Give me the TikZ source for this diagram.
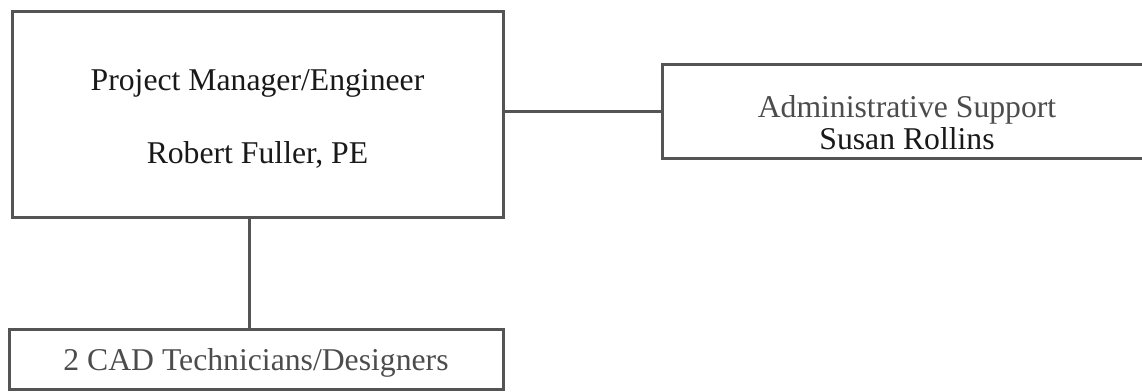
\documentclass[tikz,border=0pt]{standalone}
\usepackage{fontspec}
\setmainfont{Liberation Serif}
\newlength{\du}
\setlength{\du}{1pt}
\definecolor{boxline}{rgb}{0.330000, 0.330000, 0.330000}
\definecolor{darktext}{rgb}{0.100000, 0.100000, 0.100000}
\definecolor{greytext}{rgb}{0.300000, 0.300000, 0.300000}
\tikzset{
  orgbox/.style={draw=boxline, line width=3\du, rectangle, inner sep=0pt},
  link/.style={draw=boxline, line width=3\du},
  boxtext/.style={anchor=base, inner sep=0pt, font=\fontsize{31.7}{36}\selectfont}
}

\begin{document}
\begin{tikzpicture}
\pgftransformxscale{1.000000}
\pgftransformyscale{-1.000000}
\useasboundingbox (0.000000\du,0.000000\du) rectangle (1142.000000\du,391.000000\du);
% boxes
\node[orgbox, minimum width=491\du, minimum height=206\du] (pm) at (257.500000\du,114.000000\du){};
\node[orgbox, minimum width=490\du, minimum height=94\du] (adm) at (907.000000\du,111.000000\du){};
\node[orgbox, minimum width=494\du, minimum height=60\du] (cad) at (256.000000\du,359.000000\du){};
% texts
\node[boxtext, text=darktext] (pmtitle) at (257.500000\du,90.000000\du){Project Manager/Engineer};
\node[boxtext, text=darktext] (pmname) at (257.500000\du,163.000000\du){Robert Fuller, PE};
\node[boxtext, text=greytext] (admtitle) at (907.000000\du,117.000000\du){Administrative Support};
\node[boxtext, text=darktext] (admname) at (907.000000\du,149.000000\du){Susan Rollins};
\node[boxtext, text=greytext] (cadtitle) at (256.000000\du,370.000000\du){2 CAD Technicians/Designers};
% connectors
\draw[link] (adm.west) -- (adm.west -| pm.east);
\draw[link] ([xshift=-8\du]pm.south) -- ([xshift=-8\du]pm.south |- cad.north);
\end{tikzpicture}
\end{document}
